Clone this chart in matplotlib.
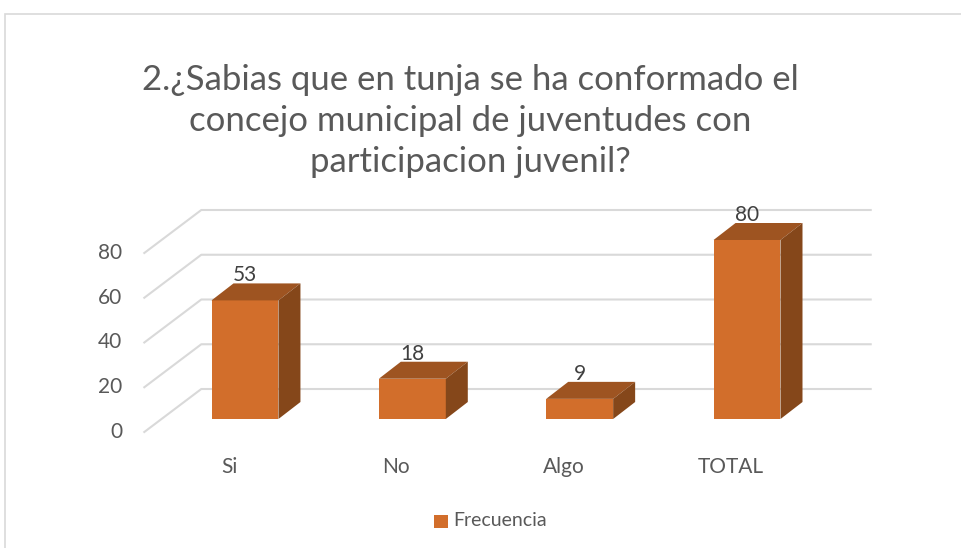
import matplotlib
matplotlib.use("Agg")
import matplotlib.pyplot as plt
from matplotlib.patches import Polygon, Rectangle
from matplotlib.lines import Line2D
from matplotlib.transforms import IdentityTransform, ScaledTranslation
import numpy as np

# ---------------- data ----------------
categories = ["Si", "No", "Algo", "TOTAL"]
frecuencia = [53, 18, 9, 80]
y_ticks = [0, 20, 40, 60, 80]
series_name = "Frecuencia"
title = ("2.¿Sabias que en tunja se ha conformado el\n"
         "concejo municipal de juventudes con\n"
         "participacion juvenil?")

# ---------------- style ----------------
FONT = "Lato"
C_FRONT = "#D26E2B"
C_TOP = "#9E5421"
C_SIDE = "#85471A"
C_GRID = "#D9D9D9"
C_TXT = "#595959"
C_LBL = "#404040"

W, H = 961, 548
fig = plt.figure(figsize=(W / 100, H / 100), dpi=100)

# axes = front plane of the bars (pixel layout)
px_left, px_right = 161.3, 830.7
px_top, px_bottom = 240, 419
ax = fig.add_axes([px_left / W, 1 - px_bottom / H,
                   (px_right - px_left) / W, (px_bottom - px_top) / H])
ax.set_xlim(-0.5, len(categories) - 0.5)
ax.set_ylim(0, 80)
ax.axis("off")


def off(dx, dy):
    """data transform shifted by dx px right, dy px down"""
    return ax.transData + ScaledTranslation(dx / 100, -dy / 100, fig.dpi_scale_trans)


def to_px(x, y, dx=0, dy=0):
    p = ax.transData.transform((x, y))
    return (p[0] + dx, p[1] - dy)


# depth offsets (px)
BACK = (40, -30)     # back wall relative to bar front plane
FRONT = (-17, 13)    # front floor edge relative to bar front plane
DEPTH = (22, -17)    # bar depth

x0, x1 = -0.5, len(categories) - 0.5

# gridlines: back wall + left side wall
for v in y_ticks:
    a = to_px(x0, v, *FRONT)
    b = to_px(x0, v, *BACK)
    c = to_px(x1, v, *BACK)
    ax.add_line(Line2D([a[0], b[0], c[0]], [a[1], b[1], c[1]],
                       transform=IdentityTransform(), color=C_GRID,
                       lw=1.5, zorder=1, clip_on=False))
    ax.text(x0, v, str(v), transform=off(-39, FRONT[1]), ha="right",
            va="center", fontsize=15, color=C_TXT, family=FONT)

# bars
xs = np.arange(len(categories))
width = 0.4
ax.bar(xs, frecuencia, width=width, color=C_FRONT, zorder=3, clip_on=False)
for x, v in zip(xs, frecuencia):
    l, r = x - width / 2, x + width / 2
    top = [to_px(l, v), to_px(r, v), to_px(r, v, *DEPTH), to_px(l, v, *DEPTH)]
    side = [to_px(r, 0), to_px(r, v), to_px(r, v, *DEPTH), to_px(r, 0, *DEPTH)]
    ax.add_patch(Polygon(top, closed=True, transform=IdentityTransform(),
                         facecolor=C_TOP, edgecolor="none", zorder=4,
                         clip_on=False))
    ax.add_patch(Polygon(side, closed=True, transform=IdentityTransform(),
                         facecolor=C_SIDE, edgecolor="none", zorder=4,
                         clip_on=False))
    ax.text(x, v, str(v), transform=off(0, -25), ha="center", va="center",
            fontsize=15, color=C_LBL, family=FONT, zorder=5)

# category labels
for x, c in zip(xs, categories):
    ax.text(x, 0, c, transform=off(-16, 48), ha="center", va="center",
            fontsize=15, color=C_TXT, family=FONT)

# title
fig.text(470 / W, 1 - 121 / H, title, ha="center", va="center",
         fontsize=25, color=C_TXT, family=FONT, linespacing=1.33)

# legend
fig.add_artist(Rectangle((434 / W, 1 - 528 / H), 14 / W, 13 / H,
                         transform=fig.transFigure, facecolor=C_FRONT,
                         edgecolor="none"))
fig.text(453 / W, 1 - 521 / H, series_name, ha="left", va="center",
         fontsize=14, color=C_TXT, family=FONT)

# chart border
fig.add_artist(Rectangle((5 / W, -0.01), 1.0, 1 - 14 / H + 0.01,
                         transform=fig.transFigure, facecolor="none",
                         edgecolor=C_GRID, lw=1.2))

fig.savefig("out.png", dpi=100)
